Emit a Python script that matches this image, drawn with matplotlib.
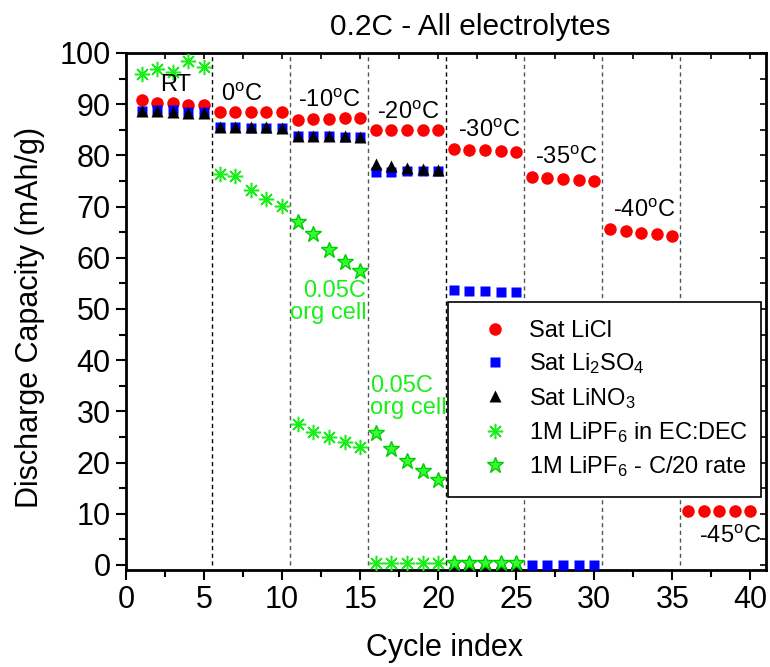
import numpy as np
import matplotlib.pyplot as plt
from matplotlib.ticker import MultipleLocator

plt.rcParams['font.family'] = ['Liberation Sans', 'DejaVu Sans']
plt.rcParams['mathtext.fontset'] = 'custom'
plt.rcParams['mathtext.rm'] = 'Liberation Sans'
plt.rcParams['mathtext.it'] = 'Liberation Sans:italic'
plt.rcParams['mathtext.bf'] = 'Liberation Sans:bold'

# discharge capacity (mAh/g), 5 cycles per temperature step
licl_cycles = np.arange(1, 41)
licl_cap = [90.8, 90.3, 90.2, 89.9, 89.8,
            88.5, 88.5, 88.4, 88.4, 88.4,
            87.0, 87.1, 87.2, 87.3, 87.3,
            85.0, 85.0, 85.0, 85.0, 85.0,
            81.3, 81.1, 81.0, 80.8, 80.6,
            75.8, 75.6, 75.3, 75.2, 75.0,
            65.7, 65.3, 64.9, 64.6, 64.2,
            10.5, 10.5, 10.5, 10.5, 10.5]

li2so4_cycles = np.arange(1, 31)
li2so4_cap = [88.6, 88.8, 88.8, 88.5, 88.5,
              85.5, 85.5, 85.4, 85.4, 85.3,
              83.7, 83.7, 83.8, 83.6, 83.6,
              76.7, 76.8, 76.9, 76.9, 77.0,
              53.7, 53.6, 53.5, 53.4, 53.3,
              0.0, 0.0, 0.0, 0.0, 0.0]

lino3_cycles = np.arange(1, 26)
lino3_cap = [88.6, 88.7, 88.5, 88.3, 88.3,
             85.6, 85.6, 85.6, 85.5, 85.4,
             83.8, 83.8, 83.8, 83.7, 83.6,
             78.3, 77.9, 77.6, 77.3, 77.1,
             0.3, 0.3, 0.3, 0.3, 0.3]

lipf6_cycles = np.arange(1, 21)
lipf6_cap = [95.9, 96.8, 96.2, 98.4, 97.2,
             76.4, 76.0, 73.2, 71.4, 70.2,
             27.6, 26.0, 25.0, 24.0, 23.0,
             0.3, 0.3, 0.3, 0.3, 0.3]

c20_cycles = np.arange(11, 26)
c20_cap = [66.9, 64.6, 61.5, 59.2, 57.5,
           25.8, 22.6, 20.3, 18.4, 16.5,
           0.4, 0.4, 0.4, 0.4, 0.4]

# temperature step boundaries and labels
step_edges = [5.5, 10.5, 15.5, 20.5, 25.5, 30.5, 35.5]
edge_colors = ['black', '#555555', '#555555', 'black', '#555555', '#555555', '#555555']
temp_labels = ['RT', r'0$^{\rm o}$C', r'-10$^{\rm o}$C', r'-20$^{\rm o}$C', r'-30$^{\rm o}$C',
               r'-35$^{\rm o}$C', r'-40$^{\rm o}$C', r'-45$^{\rm o}$C']
temp_pos = [(2.2, 93.7), (6.1, 91.8), (11.0, 90.6), (16.1, 88.3), (21.3, 84.8),
            (26.2, 79.5), (31.2, 69.1), (36.7, 5.5)]

green = '#1aee1a'

fig = plt.figure(figsize=(7.7, 6.67), dpi=100)
ax = fig.add_axes([126 / 770, 97 / 667, 640 / 770, 517 / 667])

for xe, c in zip(step_edges, edge_colors):
    ax.plot([xe, xe], [0, 100], ls=(0, (3, 2.5)), lw=1.0, color=c, zorder=1)

ax.plot(licl_cycles, licl_cap, 'o', color='red', ms=9, mec='none', label='Sat LiCl', zorder=3)
ax.plot(li2so4_cycles, li2so4_cap, 's', color='blue', ms=7.5, mec='none',
        label='Sat Li$_2$SO$_4$', zorder=3)
ax.plot(lino3_cycles, lino3_cap, '^', color='black', ms=9, mec='none',
        label='Sat LiNO$_3$', zorder=3)
ax.plot(lipf6_cycles, lipf6_cap, ls='none', marker=(8, 2, 0), color=green, ms=11, mew=1.1,
        label='1M LiPF$_6$ in EC:DEC', zorder=4)
ax.plot(c20_cycles, c20_cap, '*', ls='none', mfc='#33ff33', mec='#00cc00', ms=12, mew=1.0,
        label='1M LiPF$_6$ - C/20 rate', zorder=4)

for lab, (tx, ty) in zip(temp_labels, temp_pos):
    ax.text(tx, ty, lab, fontsize=17, ha='left', va='center', zorder=5)

ax.text(15.4, 51.3, '0.05C\norg cell', color=green, fontsize=17, ha='right', va='center',
        multialignment='right', linespacing=1.0)
ax.text(15.65, 32.7, '0.05C\norg cell', color=green, fontsize=17, ha='left', va='center',
        linespacing=1.0)

ax.set_xlim(0, 41)
ax.set_ylim(-1, 100)
ax.xaxis.set_major_locator(MultipleLocator(5))
ax.xaxis.set_minor_locator(MultipleLocator(2.5))
ax.yaxis.set_major_locator(MultipleLocator(10))
ax.yaxis.set_minor_locator(MultipleLocator(5))
ax.tick_params(which='major', direction='out', length=7, width=1.5, labelsize=22, pad=4)
ax.tick_params(which='minor', direction='out', length=5, width=1.5)
for s in ax.spines.values():
    s.set_linewidth(2)

# inward ticks on the mirrored top / right edges
top = ax.secondary_xaxis('top')
top.xaxis.set_major_locator(MultipleLocator(2.5))
top.tick_params(direction='in', length=4, width=1.2, labeltop=False)
right = ax.secondary_yaxis('right')
right.yaxis.set_major_locator(MultipleLocator(5))
right.tick_params(direction='in', length=4, width=1.2, labelright=False)

leg = ax.legend(loc='upper left', bbox_to_anchor=(0.503, 0.133, 0.489, 0.385), mode='expand',
                fontsize=17, frameon=True, fancybox=False, framealpha=1, edgecolor='black',
                borderpad=0.75, handlelength=2.5, handletextpad=0.2, labelspacing=0.4,
                borderaxespad=0)
leg.get_frame().set_linewidth(1.2)

fig.text(470 / 770, 1 - 27 / 667, '0.2C - All electrolytes', fontsize=21.5, ha='center', va='center')
fig.text(444 / 770, 1 - 648 / 667, 'Cycle index', fontsize=22, ha='center', va='center')
fig.text(30 / 770, 1 - 317 / 667, 'Discharge Capacity (mAh/g)', fontsize=22, rotation=90,
         ha='center', va='center')

fig.savefig('out.png', dpi=100)
